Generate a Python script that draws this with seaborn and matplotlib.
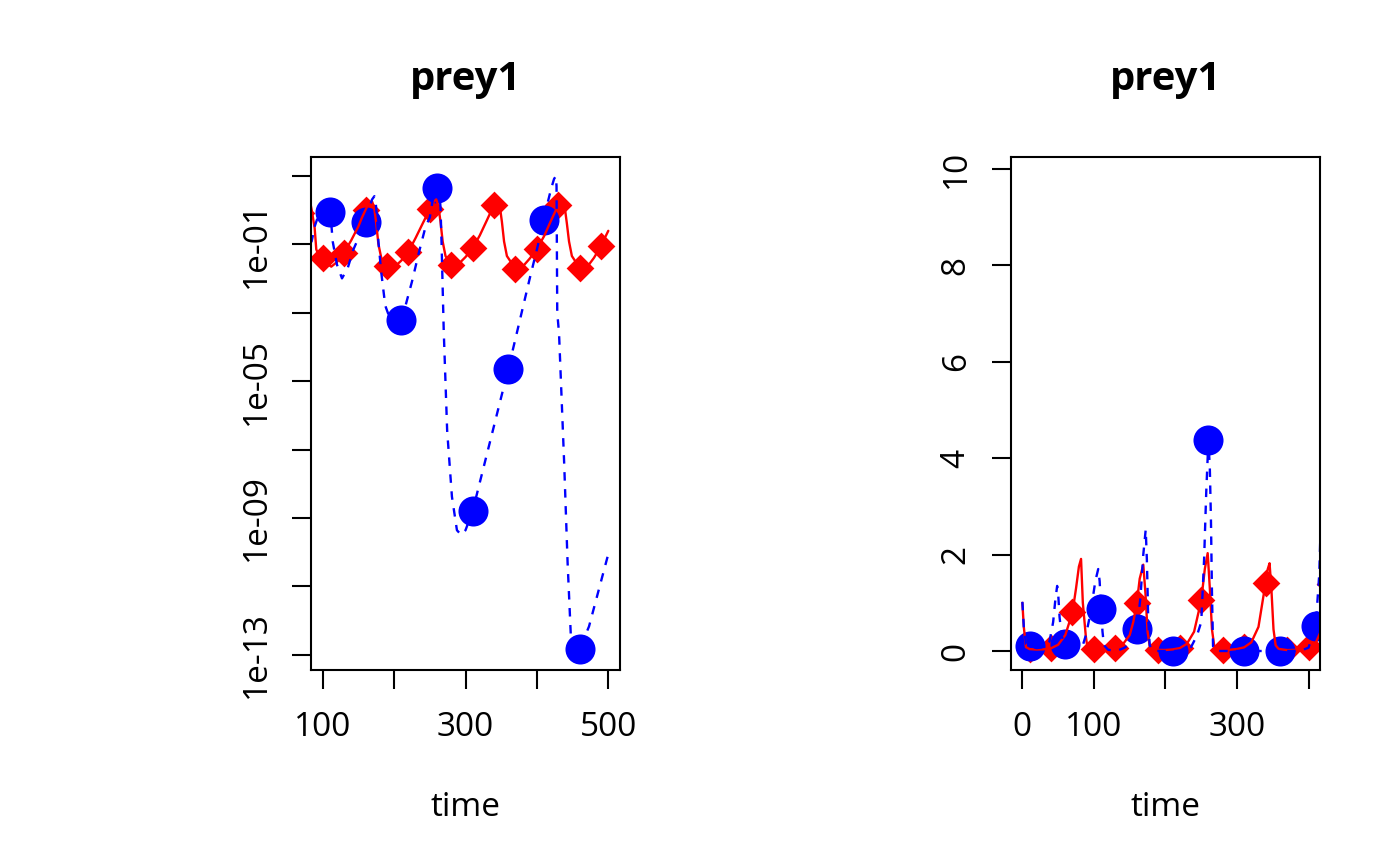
import matplotlib
matplotlib.use("Agg")
import numpy as np
import pandas as pd
import seaborn as sns
import matplotlib.pyplot as plt
from matplotlib.ticker import NullLocator

# Curva del primer escenario (roja, continua)
red_t = [0, 2, 5, 10, 20, 30, 40, 50, 60, 70, 75, 79, 82, 84.5, 88.7, 91, 95, 100, 106, 112,
         120, 130, 140, 150, 155, 160, 164, 169, 172, 175, 178, 182, 190, 200, 210, 220, 230,
         240, 250, 255, 259, 262, 265, 268, 272, 280, 290, 300, 310, 320, 330, 340, 343, 345.5,
         348, 351, 354, 358, 370, 380, 390, 400, 410, 420, 430, 433, 436, 439, 442, 445, 449,
         460, 470, 480, 490, 500]
red_v = [1.0, 0.5, 0.08, 0.04, 0.03, 0.035, 0.056, 0.13, 0.33, 0.8, 1.3, 1.75, 1.91, 1.0, 0.3,
         0.07, 0.045, 0.039, 0.027, 0.022, 0.03, 0.057, 0.13, 0.33, 0.6, 1.0, 1.5, 1.79, 1.2,
         0.4, 0.1, 0.04, 0.023, 0.021, 0.033, 0.06, 0.15, 0.4, 1.05, 1.7, 2.03, 1.3, 0.45, 0.12,
         0.045, 0.024, 0.026, 0.042, 0.076, 0.18, 0.5, 1.42, 1.7, 1.82, 1.3, 0.45, 0.12, 0.045,
         0.019, 0.022, 0.038, 0.073, 0.17, 0.5, 1.4, 1.7, 1.85, 1.2, 0.4, 0.12, 0.045, 0.02,
         0.021, 0.04, 0.091, 0.245]

# Curva del segundo escenario (azul, discontinua)
blue_t = [0, 2, 5, 10, 20, 30, 38, 43, 46, 48.6, 50, 52, 55, 60, 70, 78, 84.5, 89, 94, 98,
          102, 106, 108, 110, 112, 114, 120, 127, 135, 143, 150, 160, 165, 169, 172.4, 174,
          176, 178, 182, 187.6, 195, 203, 210, 216, 225, 235, 244, 250, 254, 257, 260, 262,
          263.6, 265, 266.5, 269.5, 274.3, 281, 288, 294, 300, 310, 360, 372.7, 390, 400, 410,
          415, 420, 424, 426.5, 427.5, 428.5, 431, 438.2, 443, 447.6, 455, 460, 473, 499, 500]
blue_v = [1.02, 0.5, 0.15, 0.10, 0.06, 0.08, 0.2, 0.6, 1.05, 1.35, 1.2, 0.7, 0.3, 0.15, 0.09,
          0.09, 0.12, 0.34, 0.7, 1.06, 1.45, 1.7, 1.45, 0.87, 0.4, 0.12, 0.025, 0.01, 0.02,
          0.07, 0.15, 0.45, 1.1, 2.0, 2.52, 1.9, 0.6, 0.12, 0.015, 0.0016, 0.0006, 0.00035,
          0.0005, 0.0016, 0.008, 0.06, 0.32, 0.6, 1.9, 3.3, 4.37, 3.8, 2.7, 1.2, 0.1, 3e-4,
          3.6e-7, 4.2e-9, 4.4e-10, 3.2e-10, 4.4e-10, 1.6e-9, 2.3e-5, 3e-4, 0.01, 0.07, 0.51,
          1.6, 4.2, 8.0, 9.7, 5.0, 1e-3, 2.5e-4, 4e-8, 5e-11, 3.4e-13, 1.3e-13, 1.5e-13,
          6.8e-13, 7.4e-11, 8e-11]

# Marcadores
diamond_t = [10, 40, 70, 100, 130, 160, 190, 220, 250, 280, 310, 340, 370, 400, 430, 460, 490]
diamond_v = [0.04, 0.056, 0.8, 0.039, 0.057, 1.0, 0.023, 0.06, 1.05, 0.024, 0.076, 1.42,
             0.019, 0.073, 1.4, 0.02, 0.091]
circle_t = [10, 60, 110, 160, 210, 260, 310, 360, 410, 460]
circle_v = [0.10, 0.15, 0.87, 0.45, 5.9e-4, 4.37, 1.6e-9, 2.3e-5, 0.51, 1.5e-13]

# Ejes
log_yticks = [1e1, 1e-1, 1e-3, 1e-5, 1e-7, 1e-9, 1e-11, 1e-13]
log_ylabels = ["", "1e-01", "", "1e-05", "", "1e-09", "", "1e-13"]
left_xticks = [100, 200, 300, 400, 500]
left_xlabels = ["100", "", "300", "", "500"]
right_xticks = [0, 100, 200, 300, 400]
right_xlabels = ["0", "100", "", "300", ""]
right_yticks = [0, 2, 4, 6, 8, 10]
right_ylabels = ["0", "2", "4", "6", "8", "10"]

red_df = pd.DataFrame({"time": red_t, "prey1": red_v})
blue_df = pd.DataFrame({"time": blue_t, "prey1": blue_v})
dia_df = pd.DataFrame({"time": diamond_t, "prey1": diamond_v})
circ_df = pd.DataFrame({"time": circle_t, "prey1": circle_v})

sns.set_theme(style="ticks")
plt.rcParams["font.family"] = ["Open Sans", "DejaVu Sans"]
plt.rcParams["font.size"] = 12
plt.rcParams["text.color"] = "black"

fig = plt.figure(figsize=(7, 4.33), dpi=200)
ax1 = fig.add_axes([311 / 1400, 196 / 866, 309 / 1400, 512.7 / 866])
ax2 = fig.add_axes([1011 / 1400, 196 / 866, 309 / 1400, 512.7 / 866])


def dibujar(ax):
    sns.lineplot(data=red_df, x="time", y="prey1", color="#FF0000", lw=0.85,
                 estimator=None, sort=False, ax=ax)
    sns.scatterplot(data=dia_df, x="time", y="prey1", marker="D", s=50, color="#FF0000",
                    linewidth=0, ax=ax)
    sns.lineplot(data=blue_df, x="time", y="prey1", color="#0000FF", lw=0.85,
                 linestyle=(0, (3.6, 3.6)), estimator=None, sort=False, ax=ax)
    sns.scatterplot(data=circ_df, x="time", y="prey1", marker="o", s=117, color="#0000FF",
                    linewidth=0, ax=ax)


def estilo(ax):
    for sp in ax.spines.values():
        sp.set_visible(True)
        sp.set_color("black")
        sp.set_linewidth(0.75)
    ax.tick_params(axis="both", length=6.8, width=0.75, color="black", labelsize=12,
                   labelcolor="black")
    ax.tick_params(axis="x", pad=8)
    ax.tick_params(axis="y", pad=7, labelrotation=90)
    for lab in ax.get_yticklabels():
        lab.set_va("center")
    ax.set_xlabel("")
    ax.set_ylabel("")
    ax.set_title("prey1", fontsize=14.4, fontweight="bold", pad=24.2, color="black")
    ax.text(0.5, -146.5 / 512.7, "time", transform=ax.transAxes, ha="center",
            va="baseline", fontsize=12, color="black")


# Panel izquierdo: escala logarítmica
ax1.set_yscale("log")
dibujar(ax1)
ax1.set_xlim(83.6, 516.4)
ax1.set_ylim(10 ** -13.44, 10 ** 1.537)
ax1.set_xticks(left_xticks, left_xlabels)
ax1.set_yticks(log_yticks, log_ylabels)
ax1.yaxis.set_minor_locator(NullLocator())
estilo(ax1)

# Panel derecho: escala lineal
dibujar(ax2)
ax2.set_xlim(-15.9, 416)
ax2.set_ylim(-0.394, 10.24)
ax2.set_xticks(right_xticks, right_xlabels)
ax2.set_yticks(right_yticks, right_ylabels)
estilo(ax2)

fig.savefig("out.png", dpi=200, facecolor="white")
